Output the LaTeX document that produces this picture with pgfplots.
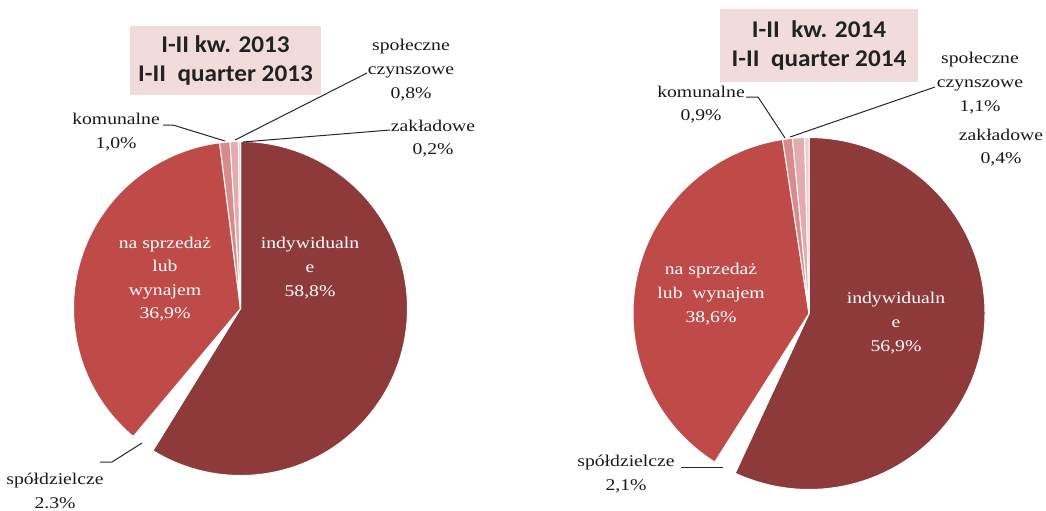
\documentclass[border=0pt]{standalone}
\usepackage{pgfplots}
\usepackage{pgfplotstable}
\pgfplotsset{compat=1.18}
\usepackage{fontspec}
\setmainfont{Liberation Serif}
\newfontfamily\lblfont[FakeStretch=1.2]{Liberation Serif}
\newfontfamily\ttlfont[FakeStretch=1.05]{Carlito}

\definecolor{cInd}{HTML}{8E3A3A}
\definecolor{cSale}{HTML}{BE4B48}
\definecolor{cSpo}{HTML}{FFFFFF}
\definecolor{cKom}{HTML}{D98B8B}
\definecolor{cSpol}{HTML}{E3ABAB}
\definecolor{cZak}{HTML}{EFCFCF}
\definecolor{cBox}{HTML}{F2DCDB}
\definecolor{cTxt}{HTML}{222222}

% 2013
\pgfplotstableread{
name value color
ind 58.8 cInd
spo 2.3 cSpo
sale 36.9 cSale
kom 1.0 cKom
spol 0.8 cSpol
zak 0.2 cZak
}\tabA
% 2014
\pgfplotstableread{
name value color
ind 56.9 cInd
spo 2.1 cSpo
sale 38.6 cSale
kom 0.9 cKom
spol 1.1 cSpol
zak 0.4 cZak
}\tabB

\newcommand\piechart[4]{%
  \pgfplotstablegetrowsof{#1}%
  \pgfmathtruncatemacro\pieN{\pgfplotsretval-1}%
  \gdef\piecum{0}%
  \foreach \i in {0,...,\pieN}{%
    \pgfplotstablegetelem{\i}{value}\of{#1}\let\pv\pgfplotsretval
    \pgfplotstablegetelem{\i}{color}\of{#1}\let\pc\pgfplotsretval
    \pgfmathsetmacro\pa{90-3.6*\piecum}%
    \pgfmathsetmacro\pb{90-3.6*(\piecum+\pv)}%
    \pgfmathsetmacro\newcum{\piecum+\pv}\global\let\piecum\newcum
    \edef\temp{\noexpand\fill[\pc, draw=white, line width=0.5pt] (axis cs:#2,#3) -- ([shift={(\pa:#4pt)}]axis cs:#2,#3) arc[start angle=\pa, end angle=\pb, radius=#4pt] -- cycle;}%
    \temp
  }%
}

\tikzset{
  lbl/.style={font=\lblfont\fontsize{8.2}{11.8}\selectfont, align=center, inner sep=0pt, text=black!90},
  ttl/.style={fill=cBox, minimum width=#1, align=center, inner sep=0pt, text=cTxt,
     font=\ttlfont\bfseries\fontsize{12}{14.5}\selectfont},
  lead/.style={black!85, line width=0.5pt}
}

\begin{document}
\begin{tikzpicture}
\begin{axis}[name=ax, width=523pt, height=255pt, scale only axis,
  xmin=0, xmax=1046, ymin=0, ymax=510, y dir=reverse, hide axis, clip=false]

\piechart{\tabA}{240.5}{308.5}{83.5}
\piechart{\tabB}{809}{313.5}{88}

% 2013 titles and labels
\node[ttl=95.5pt, minimum height=34.5pt] at (axis cs:225.5,60.5) {I-II kw. 2013\\I-II~~quarter 2013};
\draw[lead] (axis cs:163,125) -- (axis cs:173,125) -- (axis cs:225,141);
\draw[lead] (axis cs:367,73) -- (axis cs:235,140);
\draw[lead] (axis cs:390,130) -- (axis cs:243,142);
\draw[lead] (axis cs:100,462) -- (axis cs:112,462) -- (axis cs:142,443);
\node[lbl] at (axis cs:116,132) {komunalne\\1,0\%};
\node[lbl] at (axis cs:411,70) {społeczne\\czynszowe\\0,8\%};
\node[lbl] at (axis cs:433,138.5) {zakładowe\\0,2\%};
\node[lbl] at (axis cs:55,491) {spółdzielcze\\2.3\%};
\node[lbl, text=white] at (axis cs:165,279) {na sprzedaż\\lub\\wynajem\\36,9\%};
\node[lbl, text=white] at (axis cs:310,268) {indywidualn\\e\\58,8\%};

% 2014 titles and labels
\node[ttl=99pt, minimum height=36.5pt] at (axis cs:819,45.5) {I-II~~kw. 2014\\I-II~~quarter 2014};
\draw[lead] (axis cs:746,97) -- (axis cs:758,97) -- (axis cs:785,138);
\draw[lead] (axis cs:935,87) -- (axis cs:790,137);
\draw[lead] (axis cs:681,467) -- (axis cs:723,467);
\node[lbl] at (axis cs:701,104.5) {komunalne\\0,9\%};
\node[lbl] at (axis cs:980,83) {społeczne\\czynszowe\\1,1\%};
\node[lbl] at (axis cs:1001,147.5) {zakładowe\\0,4\%};
\node[lbl] at (axis cs:626,474) {spółdzielcze\\2,1\%};
\node[lbl, text=white] at (axis cs:711,294) {na sprzedaż\\lub~~wynajem\\38,6\%};
\node[lbl, text=white] at (axis cs:896,323) {indywidualn\\e\\56,9\%};
\end{axis}
\pgfresetboundingbox
\path (ax.south west) rectangle (ax.north east);
\end{tikzpicture}
\end{document}
